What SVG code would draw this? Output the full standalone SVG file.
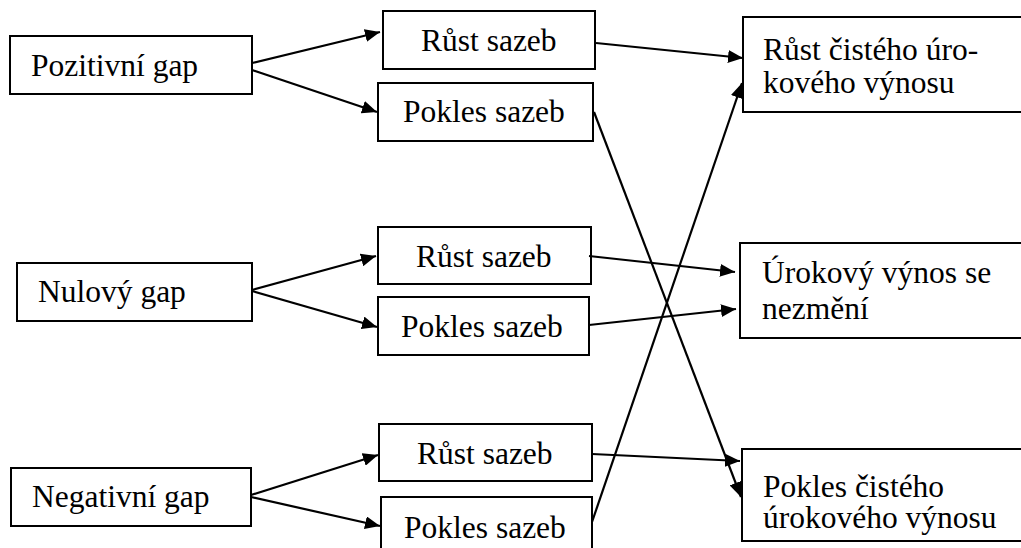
<svg xmlns="http://www.w3.org/2000/svg" width="1021" height="548" viewBox="0 0 1021 548">
<style>
.box{fill:#fff;stroke:#000;stroke-width:2}
.t{font-family:'Liberation Serif','Times New Roman',serif;font-size:31.5px;fill:#000}
.c{stroke:#000;stroke-width:2.2;fill:none;marker-end:url(#ah)}
</style>
<defs>
<marker id="ah" markerUnits="userSpaceOnUse" markerWidth="16" markerHeight="13" refX="15" refY="6.5" orient="auto">
<path d="M0,0 L15,6.5 L0,13 z" fill="#000"/>
</marker>
</defs>
<rect width="1021" height="548" fill="#fff"/>
<g id="pozitivni"><rect class="box" x="10" y="36" width="242" height="58"/><text class="t" x="31" y="76">Pozitivní gap</text></g>
<g id="rust1"><rect class="box" x="383" y="11" width="212" height="58"/><text class="t" x="421" y="51">Růst sazeb</text></g>
<g id="pokles1"><rect class="box" x="378" y="83" width="215" height="58"/><text class="t" x="403" y="122">Pokles sazeb</text></g>
<g id="nulovy"><rect class="box" x="17" y="263" width="235" height="58"/><text class="t" x="38" y="302">Nulový gap</text></g>
<g id="rust2"><rect class="box" x="378" y="227" width="213" height="57"/><text class="t" x="416" y="267">Růst sazeb</text></g>
<g id="pokles2"><rect class="box" x="378" y="297" width="211" height="58"/><text class="t" x="401" y="337">Pokles sazeb</text></g>
<g id="negativni"><rect class="box" x="11" y="468" width="240" height="58"/><text class="t" x="32" y="507">Negativní gap</text></g>
<g id="rust3"><rect class="box" x="379" y="424" width="213" height="57"/><text class="t" x="417" y="464">Růst sazeb</text></g>
<g id="pokles3"><rect class="box" x="381" y="497" width="211" height="60"/><text class="t" x="404" y="538">Pokles sazeb</text></g>
<g id="rust_vynos"><rect class="box" x="743" y="17" width="290" height="95"/><text class="t" x="763" y="60">Růst čistého úro-</text><text class="t" x="763" y="93">kového výnosu</text></g>
<g id="nezmeni"><rect class="box" x="740" y="243" width="290" height="95"/><text class="t" x="762" y="283">Úrokový výnos se</text><text class="t" x="762" y="319">nezmění</text></g>
<g id="pokles_vynos"><rect class="box" x="742" y="449" width="290" height="92"/><text class="t" x="763" y="497">Pokles čistého</text><text class="t" x="763" y="528">úrokového výnosu</text></g>
<g id="connectors">
<line class="c" x1="252" y1="63" x2="380" y2="32"/>
<line class="c" x1="252" y1="70" x2="377" y2="112"/>
<line class="c" x1="596" y1="43" x2="743" y2="58"/>
<line class="c" x1="594" y1="112" x2="741" y2="497"/>
<line class="c" x1="592" y1="522" x2="742" y2="83"/>
<line class="c" x1="252" y1="290" x2="376" y2="256"/>
<line class="c" x1="252" y1="291" x2="377" y2="327"/>
<line class="c" x1="589" y1="256" x2="735" y2="272"/>
<line class="c" x1="589" y1="325" x2="736" y2="309"/>
<line class="c" x1="251" y1="495" x2="378" y2="455"/>
<line class="c" x1="251" y1="497" x2="380" y2="526"/>
<line class="c" x1="592" y1="454" x2="740" y2="461"/>
</g>
</svg>
